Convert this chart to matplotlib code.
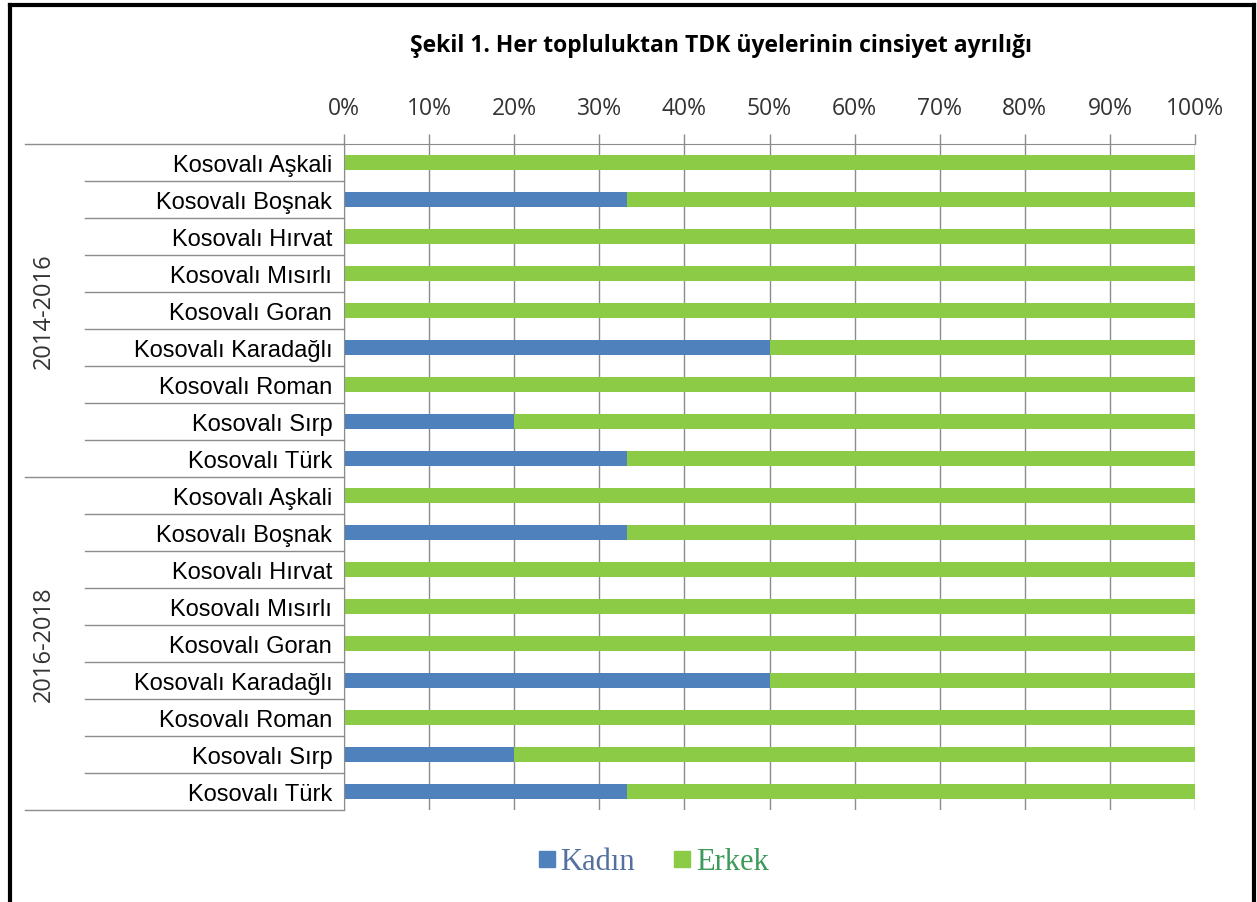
import numpy as np
import matplotlib.pyplot as plt
from matplotlib.lines import Line2D

# Datos
kategoriler = ["Kosovalı Aşkali", "Kosovalı Boşnak", "Kosovalı Hırvat",
               "Kosovalı Mısırlı", "Kosovalı Goran", "Kosovalı Karadağlı",
               "Kosovalı Roman", "Kosovalı Sırp", "Kosovalı Türk"]
donemler = ["2014-2016", "2016-2018"]
kadin_2014 = [0, 33.3, 0, 0, 0, 50, 0, 20, 33.3]
kadin_2018 = [0, 33.3, 0, 0, 0, 50, 0, 20, 33.3]

etiketler = kategoriler + kategoriler
kadin = np.array(kadin_2014 + kadin_2018)
erkek = 100 - kadin

mavi = '#4F81BD'
yesil = '#8CCB45'
gri = '#8C8C8C'

W, H = 1257, 903
fig = plt.figure(figsize=(W / 100, H / 100), dpi=100)

# Eje principal (pixeles -> fracciones)
x0, x1 = 344, 1195
y0, y1 = 145, 811
ax = fig.add_axes([x0 / W, 1 - y1 / H, (x1 - x0) / W, (y1 - y0) / H])

n = len(etiketler)
pos = np.arange(n) + 0.5
ax.barh(pos, kadin, height=0.41, color=mavi, label='Kadın')
ax.barh(pos, erkek, left=kadin, height=0.41, color=yesil, label='Erkek')

ax.set_xlim(0, 100)
ax.set_ylim(n, 0)
ax.set_xticks(np.arange(0, 101, 10))
ax.set_xticklabels([f"{v}%" for v in range(0, 101, 10)],
                   fontfamily='Open Sans', fontsize=16.5, color='#333333')
ax.xaxis.tick_top()
ax.tick_params(axis='x', length=7, color=gri, width=1, pad=10)
ax.grid(axis='x', color=gri, linewidth=1)
ax.set_axisbelow(True)

ax.set_yticks(pos)
ax.set_yticklabels(etiketler, fontfamily='Liberation Sans', fontsize=17)
ax.tick_params(axis='y', length=0, pad=8.5)

for s in ['right', 'bottom']:
    ax.spines[s].set_visible(False)
ax.spines['left'].set_color(gri)
ax.spines['top'].set_color(gri)

# Separadores de categorias
xc = (85 - x0) / (x1 - x0)
xg = (25 - x0) / (x1 - x0)
for i in range(n + 1):
    xs = xg if i % 9 == 0 else xc
    ax.plot([xs, 0], [i, i], color=gri, linewidth=1,
            transform=ax.get_yaxis_transform(), clip_on=False)

# Etiquetas de periodo
xd = (44 - x0) / (x1 - x0)
for k, d in enumerate(donemler):
    ax.text(xd, 9 * k + 4.5, d, rotation=90, ha='center', va='center',
            fontfamily='Open Sans', fontsize=17, color='#333333',
            transform=ax.get_yaxis_transform())

fig.text(721 / W, 1 - 46 / H, "Şekil 1. Her topluluktan TDK üyelerinin cinsiyet ayrılığı",
         ha='center', va='center', fontfamily='Open Sans', fontweight='bold', fontsize=16.5)

# Leyenda
handles = [Line2D([], [], marker='s', linestyle='', color=mavi, markersize=11),
           Line2D([], [], marker='s', linestyle='', color=yesil, markersize=11)]
leg = fig.legend(handles, ['Kadın', 'Erkek'], loc='center', bbox_to_anchor=(654 / W, 1 - 863 / H),
                 ncol=2, frameon=False, handlelength=0.5, handletextpad=0.2,
                 columnspacing=1.3, prop={'family': 'Liberation Serif', 'size': 22})
leg.get_texts()[0].set_color('#5470A0')
leg.get_texts()[1].set_color('#3C9A5A')

# Marco
fig.add_artist(Line2D([10 / W, 10 / W], [0, 1 - 6 / H], color='black', linewidth=3))
fig.add_artist(Line2D([1254 / W, 1254 / W], [0, 1 - 6 / H], color='black', linewidth=3))
fig.add_artist(Line2D([10 / W, 1254 / W], [1 - 6 / H, 1 - 6 / H], color='black', linewidth=3))

fig.savefig('out.png', dpi=100)
